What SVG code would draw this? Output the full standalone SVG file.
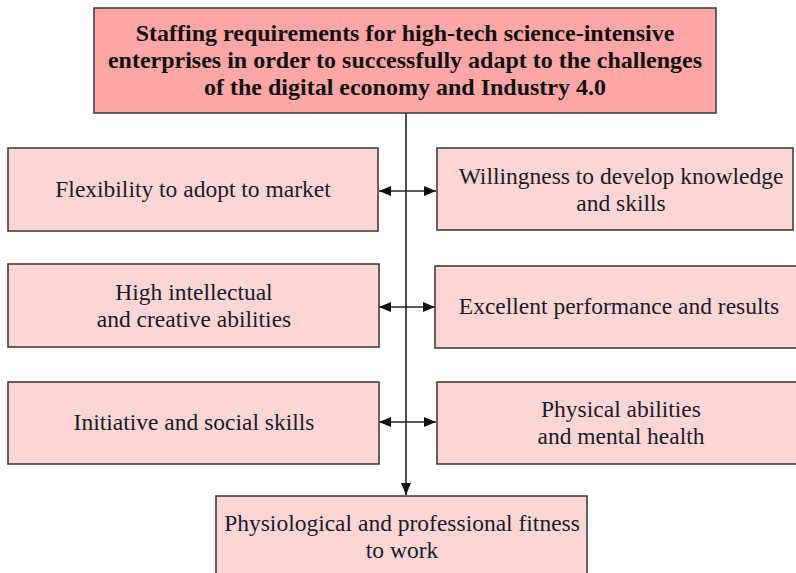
<svg xmlns="http://www.w3.org/2000/svg" width="796" height="573" viewBox="0 0 796 573">
  <style>
    text { font-family: "Liberation Serif", "Times New Roman", Times, serif; }
    .box { fill: #ffd6d6; stroke: #404040; stroke-width: 1.6; }
    .main { fill: #ffa6a6; stroke: #404040; stroke-width: 1.6; }
    .lbl { font-size: 23.5px; fill: #1a1a2a; text-anchor: middle; }
    .title { font-size: 24px; font-weight: bold; fill: #111; text-anchor: middle; }
    .wire { stroke: #222; stroke-width: 1.6; fill: none; }
  </style>
  <defs>
    <marker id="arrow" viewBox="0 0 12 10" refX="12" refY="5" markerWidth="12" markerHeight="10" markerUnits="userSpaceOnUse" orient="auto-start-reverse">
      <path d="M0,0 L12,5 L0,10 Z" fill="#111"/>
    </marker>
  </defs>

  <rect width="796" height="573" fill="#ffffff"/>

  <!-- connectors -->
  <g id="connectors">
    <line class="wire" x1="406" y1="113" x2="406" y2="495" marker-end="url(#arrow)"/>
    <line class="wire" x1="379" y1="191" x2="436" y2="191" marker-start="url(#arrow)" marker-end="url(#arrow)"/>
    <line class="wire" x1="379" y1="307" x2="435" y2="307" marker-start="url(#arrow)" marker-end="url(#arrow)"/>
    <line class="wire" x1="379" y1="422" x2="436" y2="422" marker-start="url(#arrow)" marker-end="url(#arrow)"/>
  </g>

  <g id="n-main">
    <rect class="main" x="94" y="8" width="622" height="105"/>
    <text class="title" x="405" y="41">Staffing requirements for high-tech science-intensive</text>
    <text class="title" x="405" y="68">enterprises in order to successfully adapt to the challenges</text>
    <text class="title" x="405" y="95">of the digital economy and Industry 4.0</text>
  </g>

  <g id="n-flexibility">
    <rect class="box" x="8" y="148" width="370" height="83"/>
    <text class="lbl" x="193" y="197">Flexibility to adopt to market</text>
  </g>

  <g id="n-willingness">
    <rect class="box" x="437" y="148" width="356" height="82"/>
    <text class="lbl" x="621" y="184">Willingness to develop knowledge</text>
    <text class="lbl" x="621" y="211">and skills</text>
  </g>

  <g id="n-intellectual">
    <rect class="box" x="8" y="264" width="371" height="83"/>
    <text class="lbl" x="194" y="300">High intellectual</text>
    <text class="lbl" x="194" y="327">and creative abilities</text>
  </g>

  <g id="n-performance">
    <rect class="box" x="435" y="266" width="370" height="82"/>
    <text class="lbl" x="619" y="314">Excellent performance and results</text>
  </g>

  <g id="n-initiative">
    <rect class="box" x="8" y="382" width="371" height="82"/>
    <text class="lbl" x="194" y="430">Initiative and social skills</text>
  </g>

  <g id="n-physical">
    <rect class="box" x="437" y="382" width="370" height="82"/>
    <text class="lbl" x="621" y="417">Physical abilities</text>
    <text class="lbl" x="621" y="444">and mental health</text>
  </g>

  <g id="n-fitness">
    <rect class="box" x="216" y="496" width="371" height="90"/>
    <text class="lbl" x="402" y="531">Physiological and professional fitness</text>
    <text class="lbl" x="402" y="558">to work</text>
  </g>
</svg>
